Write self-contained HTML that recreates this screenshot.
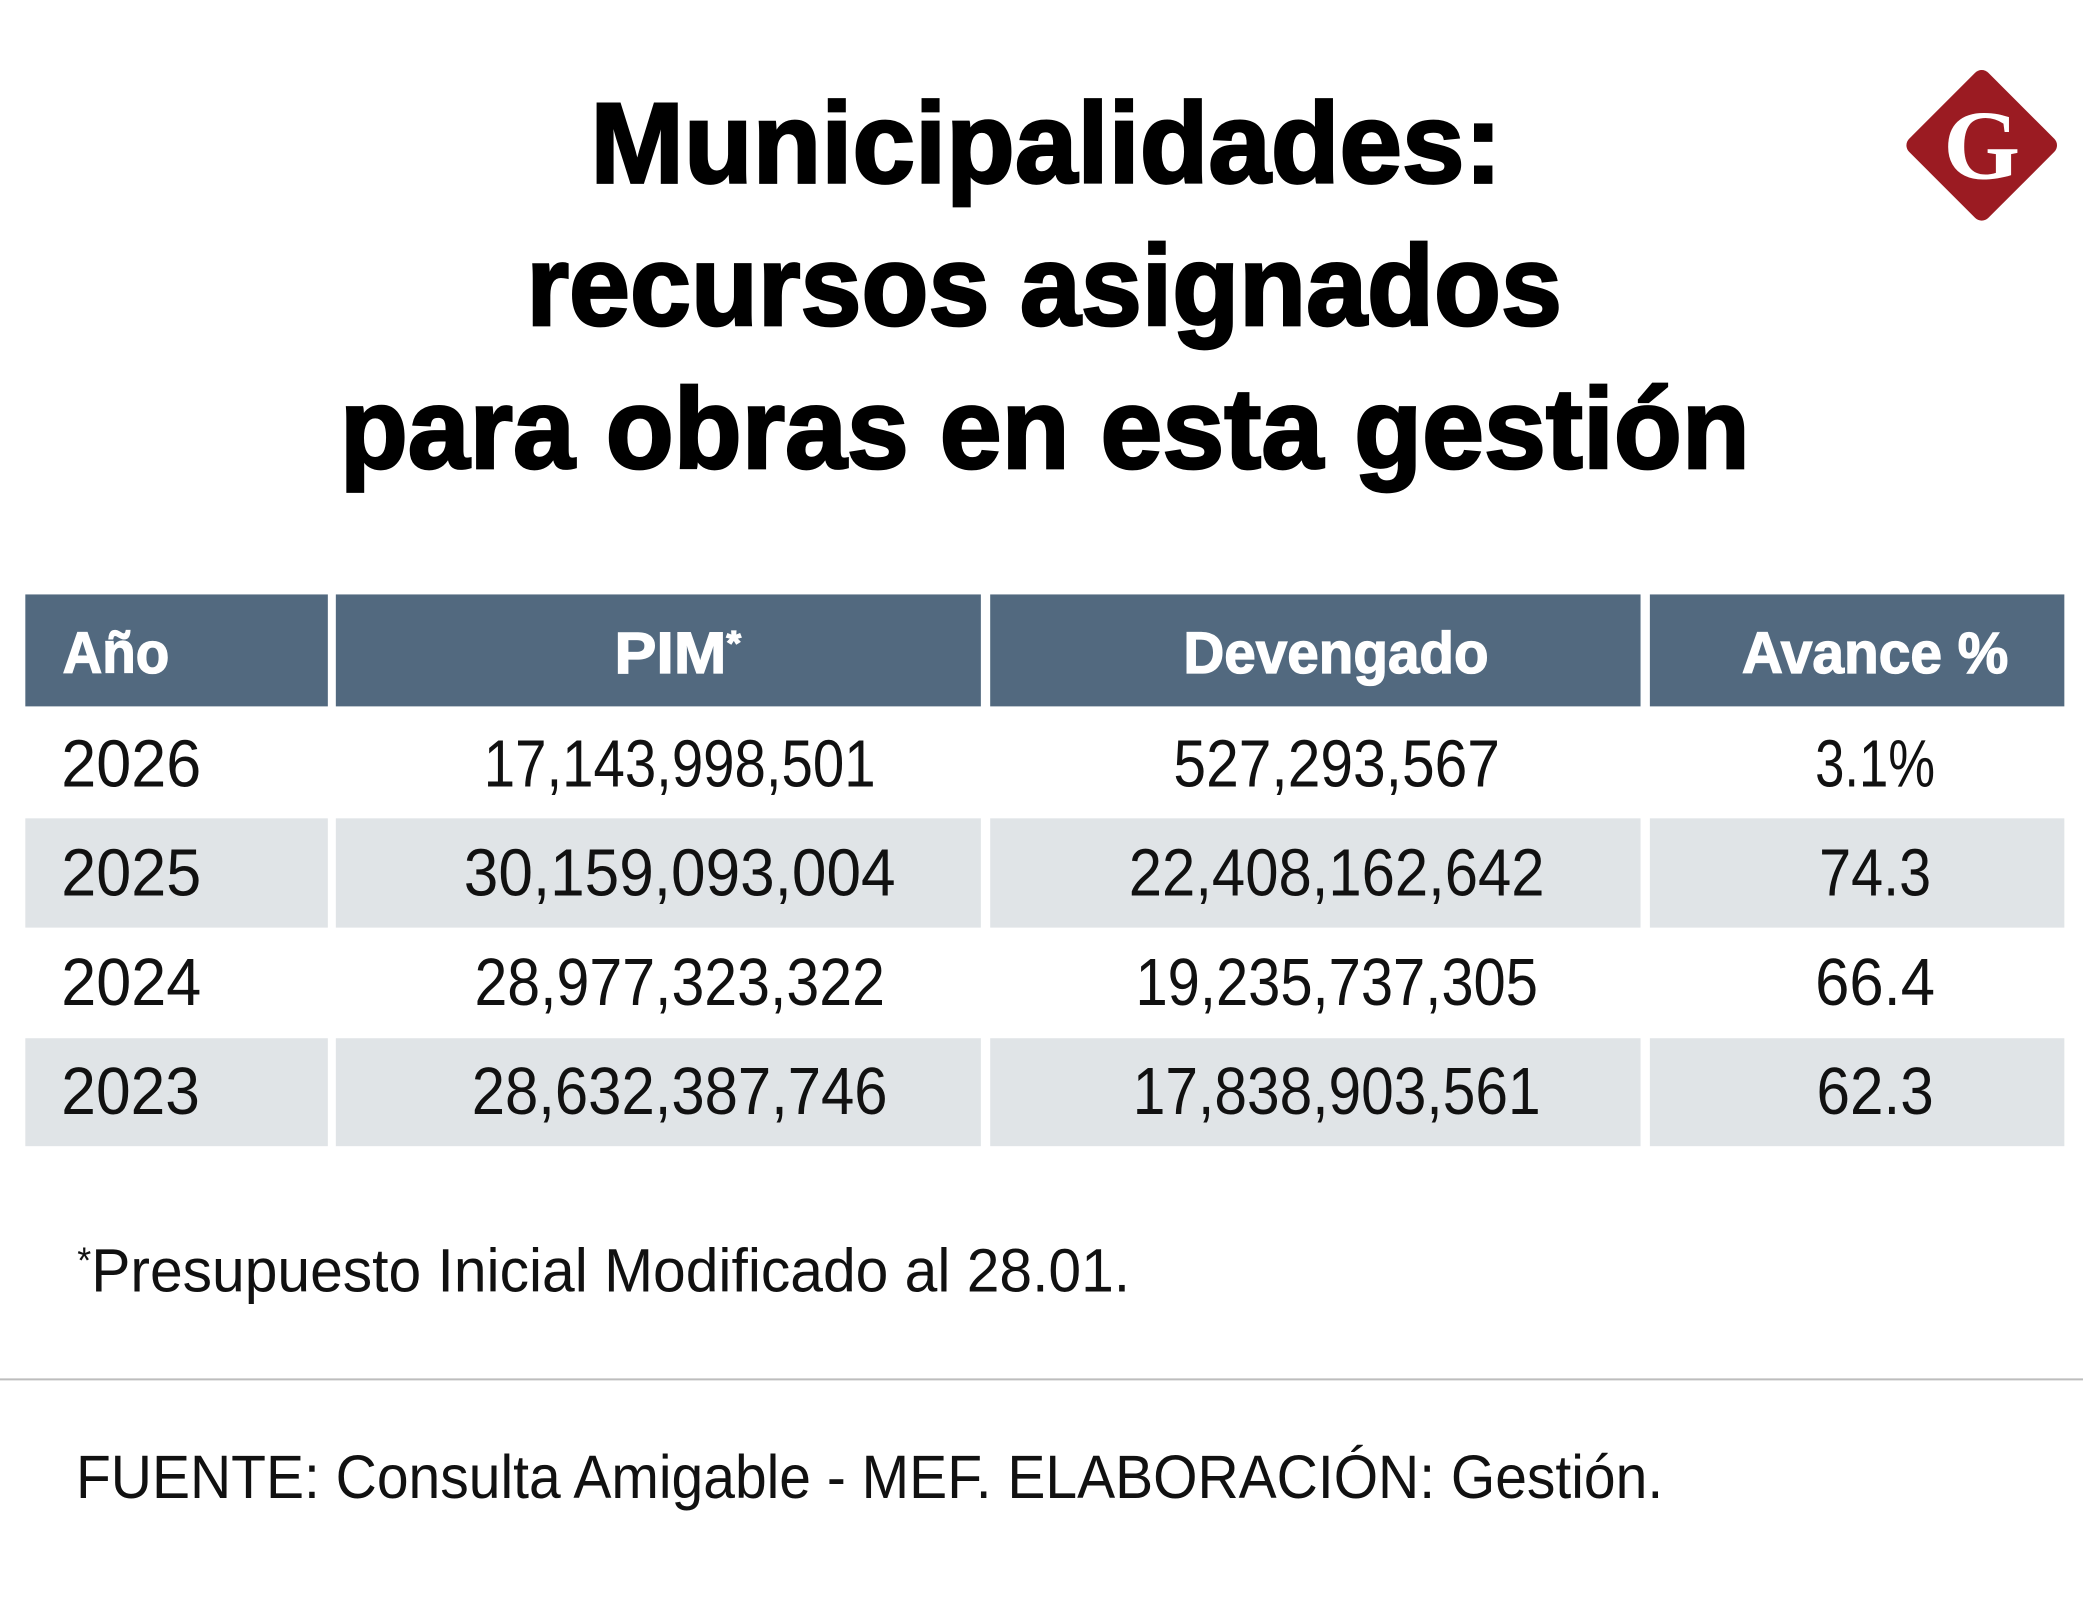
<!DOCTYPE html>
<html><head><meta charset="utf-8"><style>
html,body{margin:0;padding:0;background:#fff;}
svg{display:block;}
text{font-family:"Liberation Sans",sans-serif;}
</style></head><body>
<svg width="2083" height="1606" viewBox="0 0 1563 1205" xmlns="http://www.w3.org/2000/svg">
<rect x="0" y="0" width="1563" height="1205" fill="#fff"/>
<g font-weight="bold" fill="#000" stroke="#000" stroke-width="2" font-size="86">
<text x="443" y="137" textLength="684" lengthAdjust="spacingAndGlyphs">Municipalidades:</text>
<text x="395" y="244" textLength="777" lengthAdjust="spacingAndGlyphs">recursos asignados</text>
<text x="255" y="351" textLength="1058" lengthAdjust="spacingAndGlyphs">para obras en esta gestión</text>
</g>
<g>
<rect x="1445" y="67" width="84" height="84" rx="7" fill="#9b1b22" transform="rotate(45 1487 109)"/>
<text x="1487" y="134" text-anchor="middle" style="font-family:'Liberation Serif',serif" font-weight="bold" font-size="74" fill="#fff">G</text>
</g>
<g>
<rect x="19" y="446" width="227" height="84" fill="#52697f"/>
<rect x="252" y="446" width="484" height="84" fill="#52697f"/>
<rect x="743" y="446" width="488" height="84" fill="#52697f"/>
<rect x="1238" y="446" width="311" height="84" fill="#52697f"/>
<g fill="#fff" stroke="#fff" stroke-width="1" font-weight="bold" font-size="44">
<text x="47" y="505" textLength="80" lengthAdjust="spacingAndGlyphs">Año</text>
<text x="461" y="505" textLength="95" lengthAdjust="spacingAndGlyphs">PIM<tspan font-size="26" dy="-14">*</tspan></text>
<text x="888" y="505" textLength="229" lengthAdjust="spacingAndGlyphs">Devengado</text>
<text x="1307" y="505" textLength="200" lengthAdjust="spacingAndGlyphs">Avance %</text>
</g>
</g>
<g fill="#111" font-size="50">
<rect x="19" y="614" width="227" height="82" fill="#e0e4e7"/>
<rect x="252" y="614" width="484" height="82" fill="#e0e4e7"/>
<rect x="743" y="614" width="488" height="82" fill="#e0e4e7"/>
<rect x="1238" y="614" width="311" height="82" fill="#e0e4e7"/>
<rect x="19" y="779" width="227" height="81" fill="#e0e4e7"/>
<rect x="252" y="779" width="484" height="81" fill="#e0e4e7"/>
<rect x="743" y="779" width="488" height="81" fill="#e0e4e7"/>
<rect x="1238" y="779" width="311" height="81" fill="#e0e4e7"/>
<g>
<text x="46" y="590" textLength="105" lengthAdjust="spacingAndGlyphs">2026</text>
<text x="510" y="590" text-anchor="middle" textLength="294" lengthAdjust="spacingAndGlyphs">17,143,998,501</text>
<text x="1003" y="590" text-anchor="middle" textLength="245" lengthAdjust="spacingAndGlyphs">527,293,567</text>
<text x="1407" y="590" text-anchor="middle" textLength="90" lengthAdjust="spacingAndGlyphs">3.1%</text>
</g>
<g>
<text x="46" y="672" textLength="105" lengthAdjust="spacingAndGlyphs">2025</text>
<text x="510" y="672" text-anchor="middle" textLength="324" lengthAdjust="spacingAndGlyphs">30,159,093,004</text>
<text x="1003" y="672" text-anchor="middle" textLength="312" lengthAdjust="spacingAndGlyphs">22,408,162,642</text>
<text x="1407" y="672" text-anchor="middle" textLength="84" lengthAdjust="spacingAndGlyphs">74.3</text>
</g>
<g>
<text x="46" y="754" textLength="105" lengthAdjust="spacingAndGlyphs">2024</text>
<text x="510" y="754" text-anchor="middle" textLength="308" lengthAdjust="spacingAndGlyphs">28,977,323,322</text>
<text x="1003" y="754" text-anchor="middle" textLength="302" lengthAdjust="spacingAndGlyphs">19,235,737,305</text>
<text x="1407" y="754" text-anchor="middle" textLength="90" lengthAdjust="spacingAndGlyphs">66.4</text>
</g>
<g>
<text x="46" y="836" textLength="104" lengthAdjust="spacingAndGlyphs">2023</text>
<text x="510" y="836" text-anchor="middle" textLength="312" lengthAdjust="spacingAndGlyphs">28,632,387,746</text>
<text x="1003" y="836" text-anchor="middle" textLength="306" lengthAdjust="spacingAndGlyphs">17,838,903,561</text>
<text x="1407" y="836" text-anchor="middle" textLength="88" lengthAdjust="spacingAndGlyphs">62.3</text>
</g>
</g>
<text x="58" y="969" font-size="46" fill="#111" textLength="790" lengthAdjust="spacingAndGlyphs"><tspan font-size="28" dy="-14">*</tspan><tspan dy="14">Presupuesto Inicial Modificado al 28.01.</tspan></text>
<line x1="0" y1="1035" x2="1563" y2="1035" stroke="#bdbdbd" stroke-width="1.5"/>
<text x="57" y="1124" font-size="46" fill="#111" textLength="1191" lengthAdjust="spacingAndGlyphs">FUENTE: Consulta Amigable - MEF. ELABORACIÓN: Gestión.</text>
</svg>
</body></html>
